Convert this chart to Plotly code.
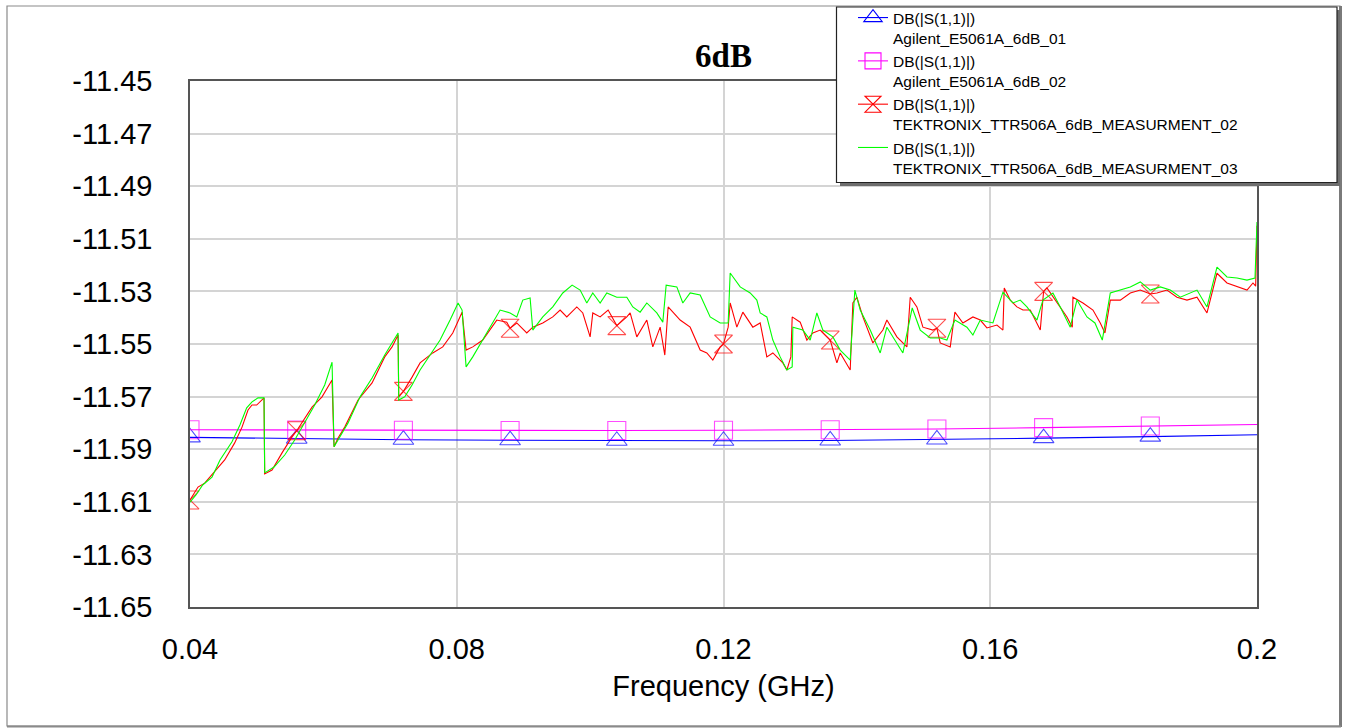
import plotly.graph_objects as go
import numpy as np

# ---------------- data ----------------
title_text = "6dB"
x_title = "Frequency (GHz)"
x_tickvals = [0.04, 0.08, 0.12, 0.16, 0.2]
x_ticktext = ["0.04", "0.08", "0.12", "0.16", "0.2"]
y_tickvals = [-11.45, -11.47, -11.49, -11.51, -11.53, -11.55, -11.57, -11.59, -11.61, -11.63, -11.65]
y_ticktext = ["-11.45", "-11.47", "-11.49", "-11.51", "-11.53", "-11.55", "-11.57", "-11.59", "-11.61", "-11.63", "-11.65"]

legend_names = [
    "DB(|S(1,1)|)<br>Agilent_E5061A_6dB_01",
    "DB(|S(1,1)|)<br>Agilent_E5061A_6dB_02",
    "DB(|S(1,1)|)<br>TEKTRONIX_TTR506A_6dB_MEASURMENT_02",
    "DB(|S(1,1)|)<br>TEKTRONIX_TTR506A_6dB_MEASURMENT_03",
]

marker_freqs = [0.04, 0.056, 0.072, 0.088, 0.104, 0.12, 0.136, 0.152, 0.168, 0.184]

agilent01_freq = [0.04, 0.056, 0.072, 0.088, 0.104, 0.12, 0.136, 0.152, 0.168, 0.184, 0.2]
agilent01_db = [-11.5855, -11.5860, -11.5864, -11.5866, -11.5868, -11.5868, -11.5867, -11.5863, -11.5858, -11.5852, -11.5845]

agilent02_freq = [0.04, 0.056, 0.072, 0.088, 0.104, 0.12, 0.136, 0.152, 0.168, 0.184, 0.2]
agilent02_db = [-11.5826, -11.5827, -11.5828, -11.5829, -11.5829, -11.5828, -11.5826, -11.5823, -11.5818, -11.5812, -11.5806]

tek02_freq = [
    0.0400, 0.0412, 0.0422, 0.0442, 0.0452, 0.0467, 0.0478, 0.0487, 0.0493, 0.0500, 0.0508, 0.0511,
    0.0512, 0.0523, 0.0538, 0.0553, 0.0560, 0.0583, 0.0598, 0.0613,
    0.0616, 0.0622, 0.0632, 0.0652, 0.0673, 0.0692, 0.0703, 0.0712,
    0.0713, 0.0720, 0.0733, 0.0745, 0.0764, 0.0779, 0.0794, 0.0808,
    0.0814, 0.0824, 0.0839, 0.0850, 0.0860, 0.0875, 0.0880, 0.0890, 0.0905, 0.0914, 0.0929, 0.0944,
    0.0955, 0.0965, 0.0980, 0.0989, 0.1000, 0.1004, 0.1015, 0.1027, 0.1040, 0.1055,
    0.1060, 0.1070, 0.1085, 0.1094, 0.1105, 0.1112, 0.1117, 0.1135, 0.1150, 0.1165, 0.1175, 0.1184,
    0.1195, 0.1200, 0.1207, 0.1210, 0.1220, 0.1229, 0.1244, 0.1255, 0.1265, 0.1274, 0.1289, 0.1295,
    0.1301, 0.1303, 0.1315, 0.1325, 0.1334, 0.1345, 0.1360, 0.1370,
    0.1375, 0.1390, 0.1394, 0.1400, 0.1409, 0.1424, 0.1439, 0.1445, 0.1460, 0.1475, 0.1480, 0.1490,
    0.1499, 0.1514, 0.1520, 0.1525, 0.1540, 0.1547, 0.1559, 0.1574, 0.1585, 0.1595, 0.1610, 0.1619,
    0.1621, 0.1630, 0.1640, 0.1649, 0.1660, 0.1675, 0.1680, 0.1685, 0.1700,
    0.1715, 0.1723, 0.1724, 0.1739, 0.1754, 0.1765, 0.1772, 0.1780, 0.1795, 0.1810, 0.1825, 0.1840,
    0.1850, 0.1865, 0.1880, 0.1895, 0.1910, 0.1925, 0.1934, 0.1940, 0.1955, 0.1970, 0.1985, 0.1994,
    0.1998, 0.2000,
]
tek02_db = [
    -11.6093, -11.6044, -11.6029, -11.5968, -11.5941, -11.5876, -11.5816, -11.5751, -11.5732, -11.5732, -11.5713, -11.5705,
    -11.5994, -11.5979, -11.5914, -11.5853, -11.5830, -11.5740, -11.5701, -11.5637,
    -11.5891, -11.5857, -11.5816, -11.5713, -11.5648, -11.5549, -11.5511, -11.5466,
    -11.5701, -11.5680, -11.5626, -11.5572, -11.5534, -11.5511, -11.5458, -11.5379,
    -11.5523, -11.5511, -11.5485, -11.5447, -11.5409, -11.5417, -11.5440, -11.5420, -11.5458, -11.5436, -11.5420, -11.5397,
    -11.5371, -11.5397, -11.5359, -11.5382, -11.5473, -11.5382, -11.5397, -11.5371, -11.5430, -11.5397,
    -11.5382, -11.5473, -11.5409, -11.5511, -11.5436, -11.5542, -11.5359, -11.5409, -11.5436, -11.5523, -11.5534, -11.5561,
    -11.5511, -11.5500, -11.5436, -11.5344, -11.5436, -11.5379, -11.5436, -11.5420, -11.5549, -11.5534, -11.5572, -11.5599,
    -11.5549, -11.5397, -11.5417, -11.5485, -11.5458, -11.5447, -11.5485, -11.5572,
    -11.5534, -11.5599, -11.5344, -11.5322, -11.5397, -11.5496, -11.5447, -11.5409, -11.5473, -11.5511, -11.5322, -11.5359,
    -11.5436, -11.5447, -11.5440, -11.5496, -11.5511, -11.5379, -11.5420, -11.5397, -11.5409, -11.5439, -11.5428, -11.5447,
    -11.5287, -11.5333, -11.5359, -11.5371, -11.5371, -11.5447, -11.5300, -11.5287, -11.5344,
    -11.5397, -11.5436, -11.5322, -11.5344, -11.5371, -11.5420, -11.5458, -11.5333, -11.5333, -11.5306, -11.5295, -11.5310,
    -11.5306, -11.5295, -11.5322, -11.5333, -11.5322, -11.5382, -11.5295, -11.5231, -11.5268, -11.5283, -11.5295, -11.5268,
    -11.5280, -11.5050,
]

tek03_freq = [
    0.0400, 0.0409, 0.0419, 0.0433, 0.0445, 0.0463, 0.0475, 0.0485, 0.0493, 0.0502, 0.0511,
    0.0512, 0.0526, 0.0542, 0.0557, 0.0572, 0.0587, 0.0602, 0.0613,
    0.0616, 0.0625, 0.0637, 0.0655, 0.0673, 0.0692, 0.0703, 0.0712,
    0.0713, 0.0722, 0.0733, 0.0745, 0.0760, 0.0775, 0.0790, 0.0802, 0.0808,
    0.0814, 0.0824, 0.0839, 0.0854, 0.0865, 0.0880, 0.0890, 0.0899, 0.0910, 0.0914, 0.0929, 0.0944,
    0.0959, 0.0973, 0.0985, 0.0995, 0.1004, 0.1015, 0.1025, 0.1040, 0.1055,
    0.1064, 0.1075, 0.1085, 0.1100, 0.1109, 0.1114, 0.1130, 0.1139, 0.1150, 0.1165, 0.1180, 0.1195,
    0.1207, 0.1210, 0.1225, 0.1240, 0.1250, 0.1255, 0.1265, 0.1274, 0.1285, 0.1295, 0.1303, 0.1304,
    0.1319, 0.1330, 0.1340, 0.1349, 0.1364, 0.1375,
    0.1390, 0.1397, 0.1405, 0.1420, 0.1435, 0.1445, 0.1469, 0.1483, 0.1495, 0.1510, 0.1525, 0.1535,
    0.1547, 0.1565, 0.1574, 0.1585, 0.1604, 0.1619, 0.1634, 0.1645, 0.1655, 0.1670, 0.1679, 0.1694,
    0.1705, 0.1720, 0.1730, 0.1745, 0.1757, 0.1768, 0.1780, 0.1795, 0.1810, 0.1825, 0.1840, 0.1855,
    0.1870, 0.1885, 0.1900, 0.1910, 0.1925, 0.1940, 0.1955, 0.1970, 0.1985, 0.1997, 0.2000,
]
tek03_db = [
    -11.6101, -11.6074, -11.6036, -11.6006, -11.5941, -11.5872, -11.5807, -11.5743, -11.5720, -11.5705, -11.5705,
    -11.5990, -11.5968, -11.5922, -11.5865, -11.5800, -11.5732, -11.5656, -11.5569,
    -11.5891, -11.5853, -11.5800, -11.5701, -11.5629, -11.5542, -11.5496, -11.5458,
    -11.5713, -11.5701, -11.5656, -11.5599, -11.5542, -11.5485, -11.5409, -11.5344, -11.5371,
    -11.5587, -11.5549, -11.5485, -11.5420, -11.5371, -11.5382, -11.5397, -11.5333, -11.5325, -11.5447, -11.5397, -11.5359,
    -11.5306, -11.5276, -11.5295, -11.5344, -11.5306, -11.5344, -11.5306, -11.5322, -11.5322,
    -11.5359, -11.5379, -11.5344, -11.5382, -11.5417, -11.5276, -11.5283, -11.5344, -11.5306, -11.5314, -11.5397, -11.5420,
    -11.5420, -11.5230, -11.5283, -11.5306, -11.5333, -11.5382, -11.5397, -11.5485, -11.5549, -11.5599, -11.5587, -11.5436,
    -11.5447, -11.5485, -11.5382, -11.5447, -11.5473, -11.5523,
    -11.5561, -11.5295, -11.5371, -11.5447, -11.5534, -11.5436, -11.5534, -11.5363, -11.5447, -11.5477, -11.5477, -11.5485,
    -11.5409, -11.5436, -11.5466, -11.5409, -11.5420, -11.5303, -11.5344, -11.5333, -11.5359, -11.5409, -11.5333, -11.5306,
    -11.5359, -11.5436, -11.5333, -11.5397, -11.5420, -11.5485, -11.5306, -11.5295, -11.5283, -11.5264, -11.5295, -11.5283,
    -11.5295, -11.5322, -11.5306, -11.5295, -11.5359, -11.5208, -11.5245, -11.5249, -11.5257, -11.5249, -11.5036,
]

# ---------------- layout constants (pixels) ----------------
W, H = 1349, 728
PL, PR, PT, PB = 190, 1257, 81, 607   # plot area edges
plot_w, plot_h = PR - PL, PB - PT


def px_x(p):
    return (p - PL) / plot_w


def px_y(p):
    return (PB - p) / plot_h


def msizes(freqs, size):
    return [size if any(abs(f - m) < 1e-6 for m in marker_freqs) else 0 for f in freqs]


AX_FONT = "Liberation Sans, Arial, sans-serif"
LW = 1.1
MS = 18

series = [
    (agilent01_freq, agilent01_db, "#0000ff", "triangle-up-open"),
    (agilent02_freq, agilent02_db, "#ff00ff", "square-open"),
    (tek02_freq, tek02_db, "#ff0000", "hourglass-open"),
    (tek03_freq, tek03_db, "#00ff00", None),
]

fig = go.Figure()

for i, (fx, fy, col, sym) in enumerate(series):
    if sym:
        fig.add_trace(go.Scatter(
            x=fx, y=fy, name=legend_names[i], mode="lines+markers", showlegend=False,
            legendgroup=f"g{i}",
            line=dict(color=col, width=LW),
            marker=dict(symbol=sym, size=msizes(fx, MS), color=col, line=dict(width=1.1, color=col)),
        ))
        # legend entry
        fig.add_trace(go.Scatter(
            x=[None], y=[None], name=legend_names[i], mode="lines+markers", legendgroup=f"g{i}",
            line=dict(color=col, width=LW),
            marker=dict(symbol=sym, size=16, color=col, line=dict(width=1.1, color=col)),
        ))
    else:
        fig.add_trace(go.Scatter(
            x=fx, y=fy, name=legend_names[i], mode="lines", legendgroup=f"g{i}",
            line=dict(color=col, width=LW),
        ))

shapes = [
    # outer frame
    dict(type="rect", xref="paper", yref="paper", x0=px_x(7), x1=px_x(1340), y0=px_y(726), y1=px_y(6),
         line=dict(color="#8a8a8a", width=1.2), layer="below"),
    dict(type="line", xref="paper", yref="paper", x0=px_x(1340.5), x1=px_x(1340.5), y0=px_y(727), y1=px_y(6),
         line=dict(color="#7a7a7a", width=3)),
    dict(type="line", xref="paper", yref="paper", x0=px_x(7), x1=px_x(1341), y0=px_y(726.5), y1=px_y(726.5),
         line=dict(color="#8a8a8a", width=2)),
    # legend shadow
    dict(type="rect", xref="paper", yref="paper", x0=px_x(840), x1=px_x(1340), y0=px_y(186), y1=px_y(10),
         line=dict(width=0), fillcolor="#6e6e6e", layer="above"),
    # legend box
    dict(type="rect", xref="paper", yref="paper", x0=px_x(836.5), x1=px_x(1337), y0=px_y(182.5), y1=px_y(7),
         line=dict(color="#222222", width=1.2), fillcolor="white", layer="above"),
]

fig.update_layout(
    width=W, height=H,
    margin=dict(l=PL, r=W - PR, t=PT, b=H - PB, pad=0, autoexpand=False),
    paper_bgcolor="white", plot_bgcolor="white",
    title=dict(text="<b>" + title_text + "</b>", x=0.5, xref="paper", xanchor="center",
               y=1 - 55 / H, yref="container", yanchor="middle",
               font=dict(family="Liberation Serif, Times New Roman, serif", size=33, color="black")),
    xaxis=dict(
        range=[0.04, 0.2], tickmode="array", tickvals=x_tickvals, ticktext=x_ticktext,
        showgrid=True, gridcolor="#d4d4d4", gridwidth=1.6,
        showline=True, mirror=True, linecolor="#555555", linewidth=1.6,
        zeroline=False, ticks="", ticklabelstandoff=15,
        tickfont=dict(family=AX_FONT, size=29, color="black"),
        title=dict(text=x_title, standoff=12, font=dict(family=AX_FONT, size=29, color="black")),
    ),
    yaxis=dict(
        range=[-11.65, -11.45], tickmode="array", tickvals=y_tickvals, ticktext=y_ticktext,
        showgrid=True, gridcolor="#d4d4d4", gridwidth=1.6,
        showline=True, mirror=True, linecolor="#555555", linewidth=1.6,
        zeroline=False, ticks="", ticklabelstandoff=30,
        tickfont=dict(family=AX_FONT, size=29, color="black"),
    ),
    legend=dict(
        x=px_x(853), y=px_y(1), xref="paper", yref="paper", xanchor="left", yanchor="top",
        bgcolor="rgba(0,0,0,0)", borderwidth=0, valign="top",
        tracegroupgap=0, itemwidth=30,
        font=dict(family=AX_FONT, size=15.5, color="black"),
    ),
    shapes=shapes,
    showlegend=True,
)

fig.write_html("out.html")
